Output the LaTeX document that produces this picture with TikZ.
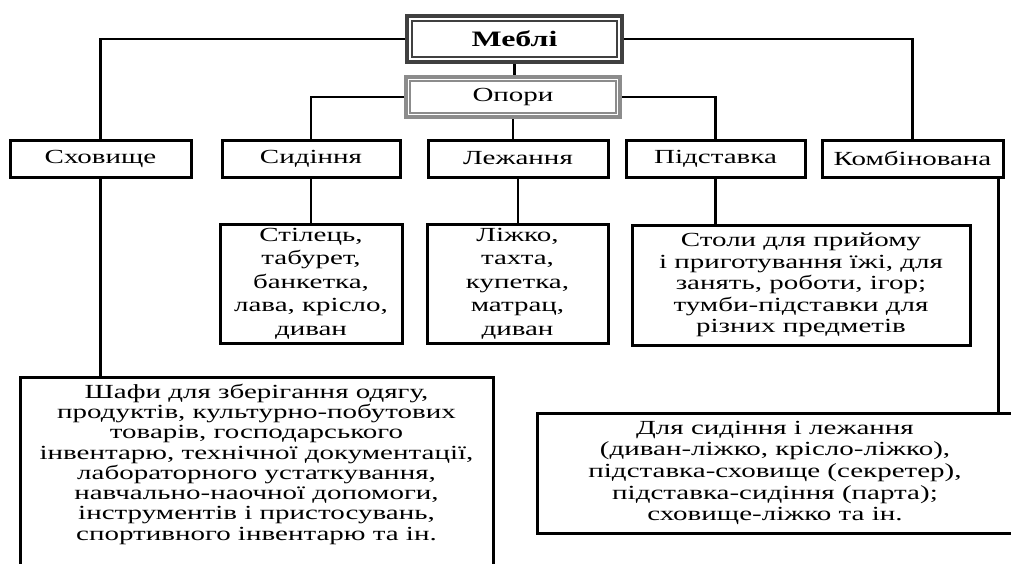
\documentclass[tikz,border=0pt]{standalone}
\usepackage{fontspec}
\setmainfont{Liberation Serif}[FakeStretch=1.45]
\begin{document}
\begin{tikzpicture}[x=1pt,y=1pt,
  box/.style={draw,line width=3pt,align=center,inner sep=0pt,
    font=\fontsize{20}{21.7}\selectfont},
  link/.style={line width=2.5pt}]
\useasboundingbox (0,0) rectangle (1011,-563);
\fill[white] (0,0) rectangle (1011,-563);
\node[box,draw=black!75,line width=4.5pt,minimum width=215pt,minimum height=46pt,
  font=\bfseries\fontsize{22}{24}\selectfont] (mebli) at (514.5,-39) {Меблі};
\draw[black!75,line width=2pt] ([shift={(7pt,-7pt)}]mebli.north west) rectangle ([shift={(-7pt,7pt)}]mebli.south east);
\node[box,draw=black!45,line width=4.5pt,minimum width=214pt,minimum height=40pt] (opory) at (513,-97) {Опори};
\draw[black!45,line width=2pt] ([shift={(6pt,-6pt)}]opory.north west) rectangle ([shift={(-6pt,6pt)}]opory.south east);
\node[box,minimum width=181pt,minimum height=37pt] (skhov) at (100.5,-158.5) {Сховище};
\node[box,minimum width=178pt,minimum height=37pt] (syd) at (311,-158.5) {Сидіння};
\node[box,minimum width=180pt,minimum height=37pt] (lezh) at (518,-158.5) {Лежання};
\node[box,minimum width=179pt,minimum height=37pt] (pidst) at (715.5,-158.5) {Підставка};
\node[box,minimum width=181pt,minimum height=37pt] (komb) at (912.5,-158.5) {Комбінована};
\node[box,minimum width=182pt,minimum height=119pt,font=\fontsize{20}{23.5}\selectfont] (sydlist) at (311,-283.5)
  {Стілець,\\ табурет,\\ банкетка,\\ лава, крісло,\\ диван};
\node[box,minimum width=181pt,minimum height=119pt,font=\fontsize{20}{23.5}\selectfont] (lezhlist) at (517.5,-283.5)
  {Ліжко,\\ тахта,\\ купетка,\\ матрац,\\ диван};
\node[box,minimum width=338pt,minimum height=120pt,font=\fontsize{20}{21.5}\selectfont] (pidstlist) at (801,-285)
  {Столи для прийому\\ і приготування їжі, для\\ занять, роботи, ігор;\\ тумби-підставки для\\ різних предметів};
\node[box,minimum width=473pt,minimum height=190pt,text depth=20pt,
  font=\fontsize{20}{20.3}\selectfont] (skhovlist) at (256.5,-472)
  {Шафи для зберігання одягу,\\ продуктів, культурно-побутових\\ товарів, господарського\\
   інвентарю, технічної документації,\\ лабораторного устаткування,\\
   навчально-наочної допомоги,\\ інструментів і пристосувань,\\ спортивного інвентарю та ін.};
\node[box,minimum width=476pt,minimum height=120pt] (komblist) at (775,-473)
  {Для сидіння і лежання\\ (диван-ліжко, крісло-ліжко),\\ підставка-сховище (секретер),\\
   підставка-сидіння (парта);\\ сховище-ліжко та ін.};
\coordinate (kombdrop) at ([xshift=-6pt]komb.south east);
\draw[link] (mebli.west) -| (skhov.north);
\draw[link] (mebli.east) -| (komb.north);
\draw[link] (mebli.south) -- (mebli.south |- opory.north);
\draw[link] (opory.west) -| (syd.north);
\draw[link] (opory.east) -| (pidst.north);
\draw[link] (opory.south) -- (opory.south |- lezh.north);
\draw[link] (syd.south) -- (syd.south |- sydlist.north);
\draw[link] (lezh.south) -- (lezh.south |- lezhlist.north);
\draw[link] (pidst.south) -- (pidst.south |- pidstlist.north);
\draw[link] (skhov.south) -- (skhov.south |- skhovlist.north);
\draw[link] (kombdrop) -- (kombdrop |- komblist.north);
\end{tikzpicture}
\end{document}
